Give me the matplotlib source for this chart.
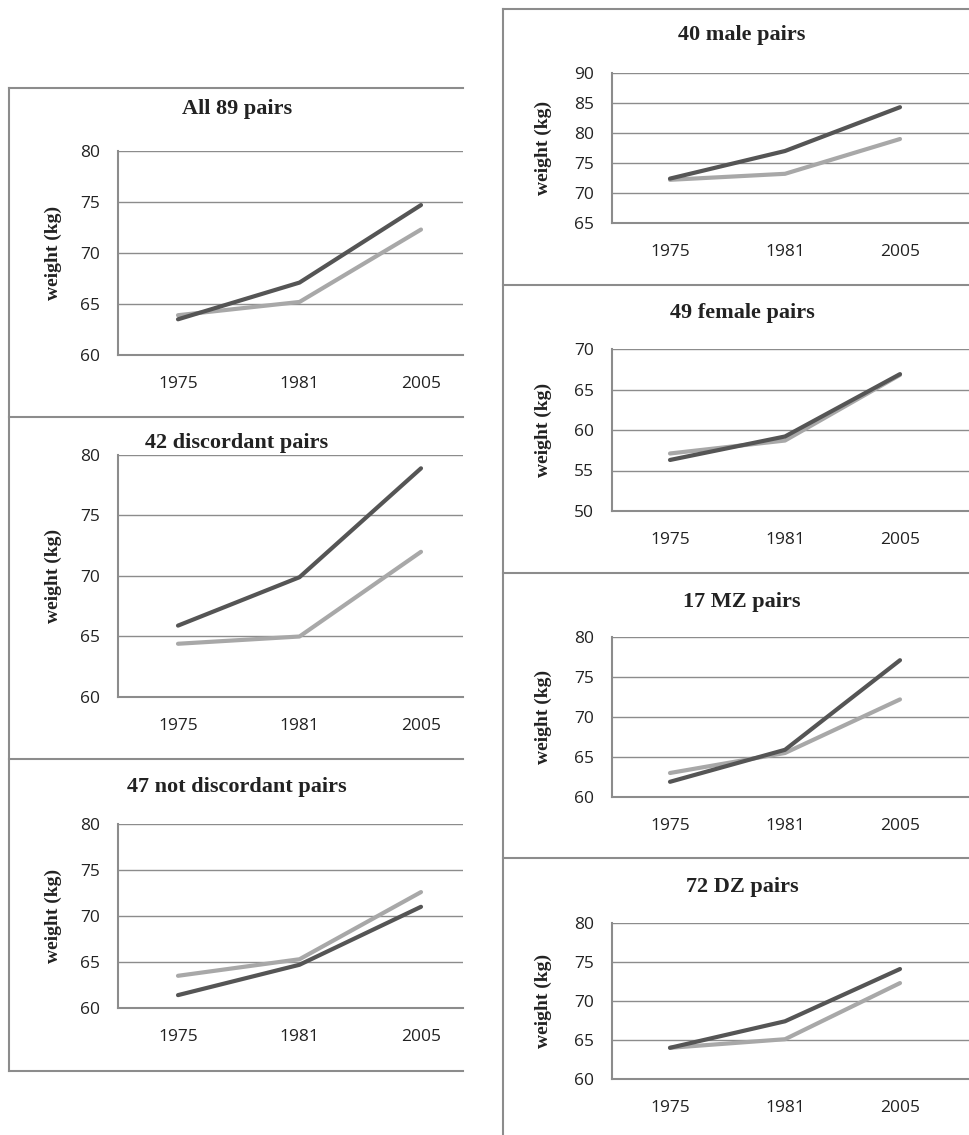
import matplotlib
matplotlib.use("Agg")
import matplotlib.pyplot as plt
from matplotlib.lines import Line2D

# data (kg)
years = ["1975", "1981", "2005"]

titles = ["All 89 pairs", "42 discordant pairs", "47 not discordant pairs",
          "40 male pairs", "49 female pairs", "17 MZ pairs", "72 DZ pairs"]

dark_all = [63.5, 67.1, 74.7]
light_all = [63.9, 65.2, 72.3]
dark_disc = [65.9, 69.9, 78.9]
light_disc = [64.4, 65.0, 72.0]
dark_notdisc = [61.4, 64.7, 71.0]
light_notdisc = [63.5, 65.3, 72.6]
dark_male = [72.4, 77.0, 84.3]
light_male = [72.2, 73.2, 79.0]
dark_female = [56.3, 59.2, 66.9]
light_female = [57.1, 58.7, 66.8]
dark_mz = [61.9, 65.9, 77.1]
light_mz = [63.0, 65.5, 72.2]
dark_dz = [64.0, 67.4, 74.1]
light_dz = [64.0, 65.1, 72.3]

y_ranges = [(60, 80), (60, 80), (60, 80), (65, 90), (50, 70), (60, 80), (60, 80)]

series = [(dark_all, light_all), (dark_disc, light_disc), (dark_notdisc, light_notdisc),
          (dark_male, light_male), (dark_female, light_female), (dark_mz, light_mz),
          (dark_dz, light_dz)]

W, H = 969, 1135
DARK = "#555555"
LIGHT = "#a8a8a8"
GRID = "#8c8c8c"

TICK_FONT = "Open Sans"
SERIF = "Liberation Serif"

fig = plt.figure(figsize=(W / 100, H / 100), dpi=100)


def fx(x):
    return x / W


def fy(y):
    return 1 - y / H


# panel layout in pixels: left, right, top, bottom, first-category x, step, title y, title x, label x
layout = [
    (118, 463, 151, 355, 178, 121.5, 109, 237, 53),
    (118, 463, 455, 697, 178, 121.5, 443, 237, 53),
    (118, 463, 824, 1008, 178, 121.5, 787, 237, 53),
    (612, 969, 73, 223, 670, 115.0, 35, 742, 543),
    (612, 969, 349, 511, 670, 115.0, 313, 742, 543),
    (612, 969, 637, 797, 670, 115.0, 602, 742, 543),
    (612, 969, 923, 1079, 670, 115.0, 887, 742, 543),
]

for i, (l, r, t, b, x0, step, ty, tx, lx) in enumerate(layout):
    ax = fig.add_axes([fx(l), fy(b), fx(r - l), (b - t) / H])
    dark, light = series[i]
    xs = range(len(years))
    ax.plot(xs, light, color=LIGHT, lw=3, solid_capstyle="round", zorder=3)
    ax.plot(xs, dark, color=DARK, lw=3, solid_capstyle="round", zorder=4)
    lo, hi = y_ranges[i]
    ax.set_ylim(lo, hi)
    ax.set_xlim(-(x0 - l) / step, (r - x0) / step)
    ax.set_yticks(range(lo, hi + 1, 5))
    ax.set_xticks(list(xs))
    ax.set_xticklabels(years)
    ax.yaxis.grid(True, color=GRID, lw=1)
    ax.set_axisbelow(True)
    for s in ["top", "right"]:
        ax.spines[s].set_visible(False)
    for s in ["left", "bottom"]:
        ax.spines[s].set_color(GRID)
        ax.spines[s].set_linewidth(1.5)
    ax.tick_params(length=0, labelsize=12.5, colors="#222222")
    ax.tick_params(axis="x", pad=15)
    ax.tick_params(axis="y", pad=13)
    for lab in ax.get_xticklabels() + ax.get_yticklabels():
        lab.set_family(TICK_FONT)
    fig.text(fx(tx), fy(ty), titles[i], ha="center", va="center",
             family=SERIF, weight="bold", fontsize=16, color="#222222")
    fig.text(fx(lx), fy((t + b) / 2), "weight (kg)", ha="center", va="center",
             rotation=90, family=SERIF, weight="bold", fontsize=14, color="#222222")

# panel frames
frame = dict(color=GRID, lw=1.5)
fig.add_artist(Line2D([fx(9), fx(9)], [fy(88), fy(1071)], **frame))
for y in [88, 417, 759, 1071]:
    fig.add_artist(Line2D([fx(9), fx(463)], [fy(y), fy(y)], **frame))
fig.add_artist(Line2D([fx(503), fx(503)], [fy(9), fy(1135)], **frame))
for y in [9, 285, 573, 858]:
    fig.add_artist(Line2D([fx(503), fx(969)], [fy(y), fy(y)], **frame))

fig.savefig("out.png", dpi=100)
